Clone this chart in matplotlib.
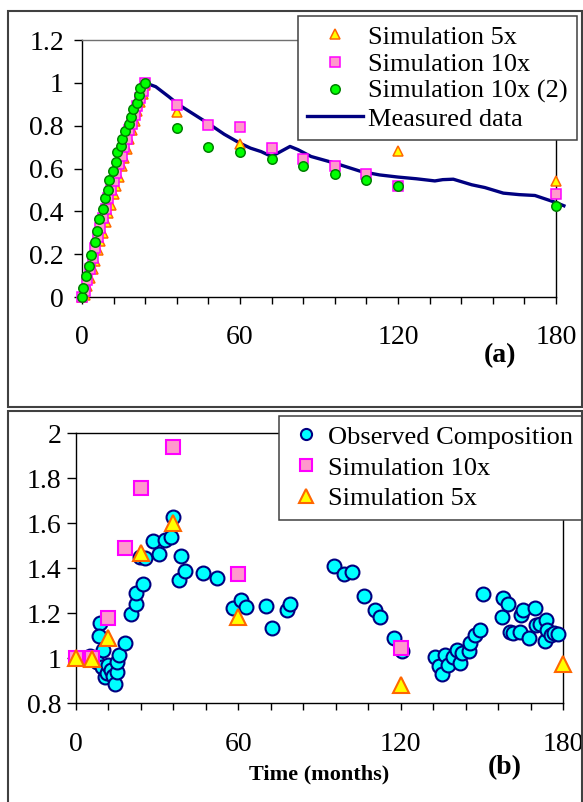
import matplotlib
matplotlib.use('Agg')
from matplotlib import pyplot as plt
from matplotlib.patches import Rectangle

plt.rcParams['font.family'] = 'Liberation Serif'

# ---- panel (a) ----
sim5_x = [0, 1, 2, 3, 4, 5, 6, 7, 8, 9, 10, 11, 12, 13, 14, 15, 16, 17, 18, 19, 20, 21, 22, 23, 24,
          36, 60, 120, 180]
sim5_y = [0, 0.01, 0.05, 0.09, 0.13, 0.17, 0.22, 0.26, 0.30, 0.35, 0.39, 0.43, 0.48, 0.52, 0.56,
          0.61, 0.65, 0.69, 0.74, 0.78, 0.82, 0.87, 0.91, 0.95, 0.99,
          0.865, 0.715, 0.68, 0.54]

sim10_x = [0, 1, 2, 3, 4, 5, 6, 7, 8, 9, 10, 11, 12, 13, 14, 15, 16, 17, 18, 19, 20, 21, 22, 23, 24,
           36, 48, 60, 72, 84, 96, 108, 120, 180]
sim10_y = [0, 0.03, 0.08, 0.13, 0.18, 0.23, 0.28, 0.32, 0.37, 0.41, 0.46, 0.50, 0.54, 0.58, 0.62,
           0.66, 0.70, 0.74, 0.78, 0.81, 0.85, 0.89, 0.93, 0.96, 1.0,
           0.895, 0.805, 0.795, 0.695, 0.645, 0.61, 0.575, 0.52, 0.48]

sim10b_x = [0, 0.2, 1.7, 2.7, 3.6, 4.8, 5.7, 6.5, 8.0, 8.9, 9.7, 10.3, 11.8, 12.8, 13.3, 14.7,
            15.2, 16.3, 17.8, 18.6, 19.2, 21.0, 21.6, 22.2, 24.0,
            36, 48, 60, 72, 84, 96, 108, 120, 180]
sim10b_y = [0, 0.04, 0.10, 0.145, 0.197, 0.255, 0.31, 0.365, 0.41, 0.46, 0.50, 0.545, 0.59,
            0.63, 0.675, 0.705, 0.737, 0.776, 0.81, 0.84, 0.877, 0.908, 0.943, 0.975, 1.0,
            0.79, 0.70, 0.675, 0.645, 0.61, 0.574, 0.547, 0.518, 0.423]

meas_x = [0, 3, 6, 9, 12, 15, 18, 21, 24, 28, 33, 36, 38, 48, 54, 60, 64, 68, 72, 76, 79, 82,
          87, 96, 106, 113, 120, 127, 134, 137, 141, 148, 153, 160, 166, 172, 180, 183]
meas_y = [0, 0.14, 0.29, 0.43, 0.56, 0.68, 0.79, 0.90, 1.0, 0.982, 0.935, 0.905, 0.888, 0.81,
          0.76, 0.718, 0.695, 0.679, 0.656, 0.683, 0.703, 0.688, 0.656, 0.625, 0.586, 0.57, 0.56,
          0.552, 0.542, 0.548, 0.55, 0.524, 0.511, 0.485, 0.478, 0.474, 0.441, 0.426]

# ---- panel (b) ----
obs_x = [3.0, 5.0, 6.4, 7.6, 8.8, 8.6, 10.0, 9.5, 10.7, 11.3, 12.0, 12.8, 13.5, 14.4, 15.0, 15.2,
         15.9, 18.0, 20.2, 22.1, 22.3, 24.8, 23.7, 25.5, 28.6, 30.7, 32.8, 35.0, 35.8, 37.9, 38.9,
         40.4, 46.9, 52.0, 58.0, 61.0, 63.0, 70.2, 72.6, 78.1, 79.0,
         95.3, 99.0, 102.1, 106.6, 110.4, 112.5, 117.4, 120.5,
         132.8, 134.0, 135.2, 136.4, 137.4, 139.5, 141.0, 142.0, 142.6, 145.4, 145.6, 147.5,
         149.3, 150.6, 157.3, 157.9, 159.5, 160.4, 161.5, 164.0, 164.3, 165.4, 167.5, 169.8,
         170.2, 171.4, 173.2, 173.8, 174.2, 175.7, 176.6, 178.1]
obs_y = [1.0, 1.01, 1.0, 0.985, 1.155, 1.10, 1.035, 0.96, 0.915, 0.935, 0.97, 0.95, 0.92, 0.885,
         0.94, 0.985, 1.015, 1.07, 1.195, 1.24, 1.29, 1.33, 1.45, 1.445, 1.52, 1.465, 1.525,
         1.54, 1.63, 1.35, 1.455, 1.39, 1.38, 1.357, 1.222, 1.26, 1.23, 1.232, 1.133, 1.215,
         1.243,
         1.41, 1.375, 1.382, 1.277, 1.215, 1.185, 1.089, 1.034,
         1.004, 0.967, 0.929, 1.015, 0.97, 1.004, 1.037, 0.978, 1.022, 1.032, 1.069, 1.104,
         1.126, 1.286, 1.185, 1.267, 1.241, 1.118, 1.114, 1.118, 1.192, 1.215, 1.089, 1.222,
         1.148, 1.152, 1.078, 1.17, 1.126, 1.104, 1.114, 1.108]

b10_x = [0, 6, 12, 18, 24, 36, 60, 120]
b10_y = [1.0, 1.0, 1.18, 1.49, 1.755, 1.94, 1.375, 1.045]

b5_x = [0, 6, 12, 24, 36, 60, 120, 180]
b5_y = [1.0, 0.997, 1.09, 1.467, 1.60, 1.185, 0.88, 0.975]

W, H = 583, 802
fig = plt.figure(figsize=(W / 100, H / 100), dpi=100)

# outer panel frames
fig.patches.append(Rectangle((8 / W, 1 - 407 / H), 574 / W, 396 / H, transform=fig.transFigure,
                             fill=False, ec='#404040', lw=1.5))
fig.patches.append(Rectangle((8 / W, -0.02), 574 / W, (802 - 411) / H + 0.02,
                             transform=fig.transFigure, fill=False, ec='#404040', lw=1.5))

ax1 = fig.add_axes([82 / W, 1 - 297 / H, 474 / W, 257 / H])
ax1.plot(meas_x, meas_y, '-', color='#000080', lw=2.4, label='Measured data', zorder=2,
         clip_on=False)
ax1.plot(sim5_x, sim5_y, '^', ms=7.5, mfc='#ffff00', mec='#ff6600', mew=1.1,
         label='Simulation 5x', zorder=3, clip_on=False)
ax1.plot(sim10_x, sim10_y, 's', ms=7, mfc='#ff99cc', mec='#ff00ff', mew=1.1,
         label='Simulation 10x', zorder=4, clip_on=False)
ax1.plot(sim10b_x, sim10b_y, 'o', ms=6.8, mfc='#00ff00', mec='#008000', mew=1.1,
         label='Simulation 10x (2)', zorder=5, clip_on=False)
ax1.set_xlim(0, 180)
ax1.set_ylim(0, 1.2)
ax1.set_xticks([0, 60, 120, 180])
ax1.set_xticks(range(0, 181, 12), minor=True)
ax1.set_yticks([0, 0.2, 0.4, 0.6, 0.8, 1.0, 1.2])
ax1.set_yticklabels(['0', '0.2', '0.4', '0.6', '0.8', '1', '1.2'])
ax1.tick_params(axis='x', which='both', direction='out', length=5, width=1, labelsize=20, pad=15)
ax1.tick_params(axis='y', direction='out', length=6, width=1, labelsize=20, pad=7)
ax1.spines['top'].set_color('#707070')
for s in ax1.spines.values():
    s.set_linewidth(1)

h, l = ax1.get_legend_handles_labels()
order = [1, 2, 3, 0]
ax1.legend([h[i] for i in order], [l[i] for i in order], loc='upper right',
           bbox_to_anchor=(576.7 / W, 1 - 16 / H), bbox_transform=fig.transFigure,
           fontsize=19, frameon=True, fancybox=False, framealpha=1, edgecolor='#404040',
           borderpad=0.35, labelspacing=0.14, handlelength=2.1, handletextpad=0.2,
           borderaxespad=0, numpoints=1).get_frame().set_linewidth(1.1)

fig.text(500 / W, 1 - 356 / H, '(a)', ha='center', va='center', fontsize=20, fontweight='bold')

ax2 = fig.add_axes([76 / W, 1 - 703.3 / H, 487 / W, 270 / H])
ax2.plot(obs_x, obs_y, 'o', ms=10, mfc='#00ffff', mec='#000080', mew=1.5,
         label='Observed Composition', zorder=3, clip_on=False)
ax2.plot(b10_x, b10_y, 's', ms=10.5, mfc='#ff99cc', mec='#ff00ff', mew=1.5,
         label='Simulation 10x', zorder=4, clip_on=False)
ax2.plot(b5_x, b5_y, '^', ms=12, mfc='#ffff00', mec='#ff6600', mew=1.5,
         label='Simulation 5x', zorder=5, clip_on=False)
ax2.set_xlim(0, 180)
ax2.set_ylim(0.8, 2.0)
ax2.set_xticks([0, 60, 120, 180])
ax2.set_xticks(range(0, 181, 12), minor=True)
ax2.set_yticks([0.8, 1.0, 1.2, 1.4, 1.6, 1.8, 2.0])
ax2.set_yticklabels(['0.8', '1', '1.2', '1.4', '1.6', '1.8', '2'])
ax2.tick_params(axis='x', which='both', direction='out', length=5, width=1, labelsize=20, pad=16)
ax2.tick_params(axis='y', direction='out', length=6.5, width=1, labelsize=20, pad=4)
for s in ax2.spines.values():
    s.set_linewidth(1)
ax2.set_xlabel('Time (months)', fontsize=16, fontweight='bold', labelpad=5)

ax2.legend(loc='upper right', bbox_to_anchor=(582.5 / W, 1 - 416 / H),
           bbox_transform=fig.transFigure, fontsize=19, frameon=True, fancybox=False,
           framealpha=1, edgecolor='#404040', borderpad=0.35, labelspacing=0.28,
           handlelength=1.3, handletextpad=0.2, borderaxespad=0,
           numpoints=1, markerscale=0.8).get_frame().set_linewidth(1.1)

fig.text(505 / W, 1 - 768 / H, '(b)', ha='center', va='center', fontsize=20, fontweight='bold')

plt.savefig('out.png', dpi=100)
